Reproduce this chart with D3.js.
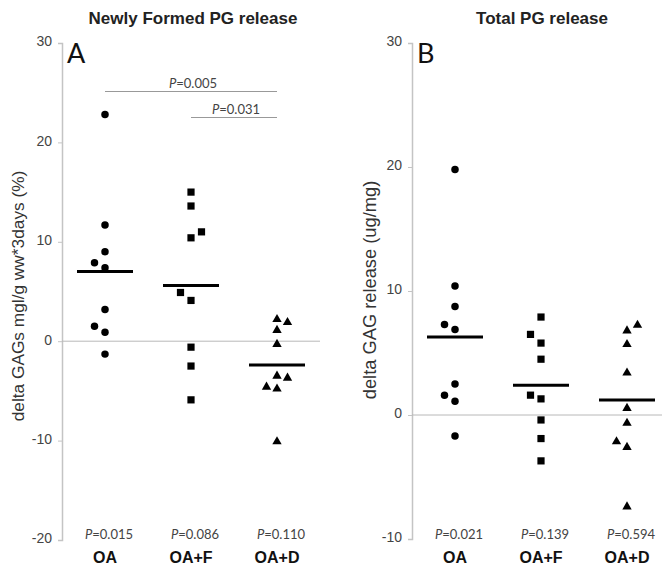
<!DOCTYPE html>
<html>
<head>
<meta charset="utf-8">
<script src="https://cdn.jsdelivr.net/npm/d3@7"></script>
<style>
  body { margin: 0; background: #fff; }
  svg { display: block; }
</style>
</head>
<body>
<svg id="chart" width="662" height="565"></svg>
<script>
// groups shared by both panels
const groups = ["OA", "OA+F", "OA+D"];
const shapes = [d3.symbolCircle, d3.symbolSquare, d3.symbolTriangle];

// panel A: newly formed PG release
const newlyOA  = [22.8, 11.7, 9.0, 7.9, 7.4, 3.2, 1.5, 0.9, -1.3];
const newlyOAF = [15.0, 13.6, 11.0, 10.4, 4.9, 4.1, -0.6, -2.5, -5.9];
const newlyOAD = [2.2, 1.9, 1.1, -0.3, -3.5, -3.7, -4.6, -4.8, -10.1];
// jitter slot per point (-1 left, 0 centre, 1 right)
const newlySlotOA  = [0, 0, 0, -1, 0, 0, -1, 0, 0];
const newlySlotOAF = [0, 0, 1, 0, -1, 0, 0, 0, 0];
const newlySlotOAD = [0, 1, 0, 0, 0, 1, -1, 0, 0];
const newlyMeans = [7.0, 5.6, -2.4];
const newlyP = ["0.015", "0.086", "0.110"];

// panel B: total PG release
const totalOA  = [19.8, 10.4, 8.75, 7.3, 6.9, 2.5, 1.6, 1.1, -1.7];
const totalOAF = [7.9, 6.5, 5.8, 4.5, 1.6, 1.3, -0.4, -1.9, -3.7];
const totalOAD = [7.25, 6.8, 5.7, 3.4, 0.55, -0.65, -2.15, -2.6, -7.4];
const totalSlotOA  = [0, 0, 0, -1, 0, 0, -1, 0, 0];
const totalSlotOAF = [0, -1, 0, 0, -1, 0, 0, 0, 0];
const totalSlotOAD = [1, 0, 0, 0, 0, 0, -1, 0, 0];
const totalMeans = [6.3, 2.4, 1.2];
const totalP = ["0.021", "0.139", "0.594"];

const yTicksA = [-20, -10, 0, 10, 20, 30];
const yTicksB = [-10, 0, 10, 20, 30];

const svg = d3.select("#chart");

function drawPanel(opt) {
  const g = svg.append("g");

  const x = d3.scalePoint()
      .domain(groups)
      .range([opt.left, opt.right])
      .padding(0.5);

  const y = d3.scaleLinear()
      .domain(opt.domain)
      .range([opt.bottom, opt.top]);

  // title
  g.append("text")
      .attr("x", opt.titleX)
      .attr("y", 24)
      .attr("text-anchor", "middle")
      .attr("font-family", "Liberation Sans, Arial, sans-serif")
      .attr("font-weight", "bold")
      .attr("font-size", 17)
      .attr("fill", "#222")
      .text(opt.title);

  // y axis
  const axis = g.append("g")
      .attr("transform", `translate(${opt.left},0)`)
      .call(d3.axisLeft(y).tickValues(opt.ticks).tickSize(4).tickPadding(6).tickFormat(d => String(d)));
  axis.select(".domain").attr("stroke", "#c4c4c4").attr("stroke-width", 1.5);
  axis.selectAll(".tick line").attr("stroke", "#c4c4c4");
  axis.selectAll(".tick text")
      .attr("font-family", "Liberation Sans, Arial, sans-serif")
      .attr("font-size", 14)
      .attr("fill", "#444")
      .attr("dy", "0.2em");

  // zero line
  g.append("line")
      .attr("x1", opt.left).attr("x2", opt.right)
      .attr("y1", y(0)).attr("y2", y(0))
      .attr("stroke", "#b8b8b8")
      .attr("stroke-width", 1);

  // panel letter
  g.append("text")
      .attr("x", opt.left + 5)
      .attr("y", opt.top + 20)
      .attr("font-family", "Lato, 'Open Sans', sans-serif")
      .attr("font-size", 27)
      .attr("fill", "#111")
      .text(opt.letter);

  // y label
  g.append("text")
      .attr("transform", `translate(${opt.labelX},${opt.labelY}) rotate(-90)`)
      .attr("text-anchor", "middle")
      .attr("font-family", "Liberation Sans, Arial, sans-serif")
      .attr("font-size", opt.labelSize)
      .attr("fill", "#333")
      .text(opt.yLabel);

  // points
  const pts = [];
  opt.series.forEach((vals, i) => {
    vals.forEach((v, j) => pts.push({ group: groups[i], shape: shapes[i], v: v, slot: opt.slots[i][j] }));
  });

  g.selectAll("path.pt")
    .data(pts)
    .join("path")
      .attr("class", "pt")
      .attr("d", d => d3.symbol().type(d.shape).size(d.shape === d3.symbolSquare ? 52 : d.shape === d3.symbolTriangle ? 38 : 44)())
      .attr("transform", d => `translate(${x(d.group) + d.slot * 10.5},${y(d.v)})`)
      .attr("fill", "#000");

  // mean bars
  g.selectAll("line.mean")
    .data(opt.means)
    .join("line")
      .attr("class", "mean")
      .attr("x1", (d, i) => x(groups[i]) - 28)
      .attr("x2", (d, i) => x(groups[i]) + 28)
      .attr("y1", d => y(d))
      .attr("y2", d => y(d))
      .attr("stroke", "#000")
      .attr("stroke-width", 3);

  // p-values under each group
  const pText = g.selectAll("text.pval")
    .data(opt.pvals)
    .join("text")
      .attr("class", "pval")
      .attr("x", (d, i) => x(groups[i]) + 4)
      .attr("y", 539)
      .attr("text-anchor", "middle")
      .attr("font-family", "Lato, 'Open Sans', sans-serif")
      .attr("font-size", 13)
      .attr("fill", "#444");
  pText.append("tspan").attr("font-style", "italic").text("P");
  pText.append("tspan").text(d => "=" + d);

  // group labels
  g.selectAll("text.grp")
    .data(groups)
    .join("text")
      .attr("class", "grp")
      .attr("x", d => x(d))
      .attr("y", 563)
      .attr("text-anchor", "middle")
      .attr("font-family", "Liberation Sans, Arial, sans-serif")
      .attr("font-weight", "bold")
      .attr("font-size", 16)
      .attr("fill", "#111")
      .text(d => d);

  return { x, y, g };
}

const A = drawPanel({
  title: "Newly Formed PG release", titleX: 193, letter: "A",
  left: 62, right: 320, top: 43, bottom: 540, domain: [-20, 30], ticks: yTicksA,
  yLabel: "delta GAGs mgl/g ww*3days (%)", labelX: 24, labelY: 296, labelSize: 17.3,
  series: [newlyOA, newlyOAF, newlyOAD],
  slots: [newlySlotOA, newlySlotOAF, newlySlotOAD],
  means: newlyMeans, pvals: newlyP
});

drawPanel({
  title: "Total PG release", titleX: 542, letter: "B",
  left: 412, right: 670, top: 43, bottom: 539, domain: [-10, 30], ticks: yTicksB,
  yLabel: "delta GAG release (ug/mg)", labelX: 376, labelY: 290, labelSize: 18.3,
  series: [totalOA, totalOAF, totalOAD],
  slots: [totalSlotOA, totalSlotOAF, totalSlotOAD],
  means: totalMeans, pvals: totalP
});

// significance brackets in panel A
const brackets = [
  { from: "OA", to: "OA+D", y: 91.5, label: "0.005" },
  { from: "OA+F", to: "OA+D", y: 117.5, label: "0.031" }
];
brackets.forEach(b => {
  A.g.append("line")
      .attr("x1", A.x(b.from)).attr("x2", A.x(b.to))
      .attr("y1", b.y).attr("y2", b.y)
      .attr("stroke", "#999")
      .attr("stroke-width", 1);
  const t = A.g.append("text")
      .attr("x", (A.x(b.from) + A.x(b.to)) / 2 + 2)
      .attr("y", b.y - 4)
      .attr("text-anchor", "middle")
      .attr("font-family", "Lato, 'Open Sans', sans-serif")
      .attr("font-size", 13)
      .attr("fill", "#444");
  t.append("tspan").attr("font-style", "italic").text("P");
  t.append("tspan").text("=" + b.label);
});
</script>
</body>
</html>
